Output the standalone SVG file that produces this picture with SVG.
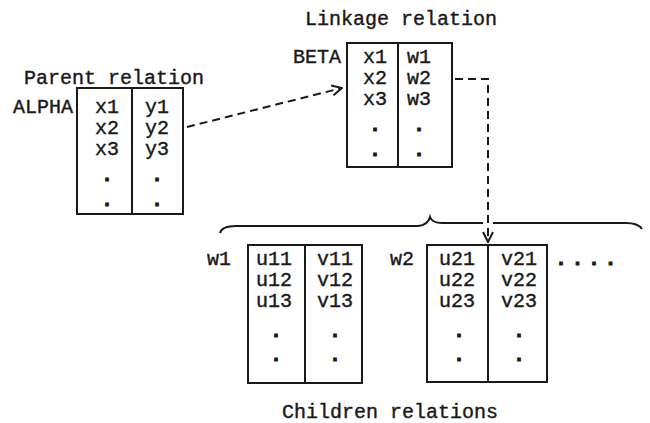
<svg xmlns="http://www.w3.org/2000/svg" width="650" height="423" viewBox="0 0 650 423">
<defs>
<marker id="open" viewBox="0 0 12 12" refX="11" refY="6" markerWidth="12" markerHeight="12" markerUnits="userSpaceOnUse" orient="auto">
<path d="M1,1 L11,6 L1,11" fill="none" stroke="#1a1a1a" stroke-width="2"/>
</marker>
</defs>
<style>
text{font-family:"Liberation Mono","DejaVu Sans Mono",monospace;font-size:20px;fill:#1a1a1a;stroke:#1a1a1a;stroke-width:0.4}
.c{text-anchor:middle}
.d{font-weight:bold;stroke-width:1}
.box{fill:none;stroke:#1a1a1a;stroke-width:2}
.dash{fill:none;stroke:#1a1a1a;stroke-width:2;stroke-dasharray:8 5}
</style>
<rect width="650" height="423" fill="#fff"/>
<g id="parent">
<text x="24" y="84">Parent relation</text>
<text x="13" y="113">ALPHA</text>
<rect class="box" x="77" y="88" width="106" height="126"/>
<line class="box" x1="132" y1="88" x2="132" y2="214"/>
<text class="c" x="107" y="113">x1</text><text class="c" x="157" y="113">y1</text>
<text class="c" x="107" y="134">x2</text><text class="c" x="157" y="134">y2</text>
<text class="c" x="107" y="155">x3</text><text class="c" x="157" y="155">y3</text>
<text class="c d" x="107" y="181">.</text><text class="c d" x="157" y="181">.</text>
<text class="c d" x="107" y="206">.</text><text class="c d" x="157" y="206">.</text>
</g>
<g id="linkage">
<text x="305" y="25">Linkage relation</text>
<text x="293" y="63">BETA</text>
<rect class="box" x="347" y="43" width="105" height="124"/>
<line class="box" x1="398" y1="43" x2="398" y2="167"/>
<text class="c" x="375" y="63">x1</text><text class="c" x="419" y="63">w1</text>
<text class="c" x="375" y="84">x2</text><text class="c" x="419" y="84">w2</text>
<text class="c" x="375" y="105">x3</text><text class="c" x="419" y="105">w3</text>
<text class="c d" x="375" y="131">.</text><text class="c d" x="419" y="131">.</text>
<text class="c d" x="375" y="156">.</text><text class="c d" x="419" y="156">.</text>
</g>
<g id="child-w1">
<text x="207" y="265">w1</text>
<rect class="box" x="248" y="245" width="114" height="138"/>
<line class="box" x1="305" y1="245" x2="305" y2="383"/>
<text class="c" x="274" y="265">u11</text><text class="c" x="335" y="265">v11</text>
<text class="c" x="274" y="286">u12</text><text class="c" x="335" y="286">v12</text>
<text class="c" x="274" y="307">u13</text><text class="c" x="335" y="307">v13</text>
<text class="c d" x="276" y="337">.</text><text class="c d" x="335" y="337">.</text>
<text class="c d" x="276" y="361">.</text><text class="c d" x="335" y="361">.</text>
</g>
<g id="child-w2">
<text x="390" y="265">w2</text>
<rect class="box" x="427" y="245" width="120" height="137"/>
<line class="box" x1="488" y1="245" x2="488" y2="382"/>
<text class="c" x="457" y="265">u21</text><text class="c" x="519" y="265">v21</text>
<text class="c" x="457" y="286">u22</text><text class="c" x="519" y="286">v22</text>
<text class="c" x="457" y="307">u23</text><text class="c" x="519" y="307">v23</text>
<text class="c d" x="459" y="337">.</text><text class="c d" x="519" y="337">.</text>
<text class="c d" x="459" y="361">.</text><text class="c d" x="519" y="361">.</text>
</g>
<g id="more">
<text class="d" x="555" y="265" letter-spacing="4.5">....</text>
</g>
<g id="brace">
<path class="box" d="M220,233 Q222,226 236,226 L418,226 Q428,225 430,217 Q432,223 442,223 L483,223 M493,223 L626,223 Q638,223 642,229"/>
</g>
<g id="children-label">
<text x="282" y="418">Children relations</text>
</g>
<g id="connectors">
<path class="dash" d="M187,127 L342,88" marker-end="url(#open)"/>
<path class="dash" d="M455,79 L488,79 L488,242" marker-end="url(#open)"/>
</g>
</svg>
